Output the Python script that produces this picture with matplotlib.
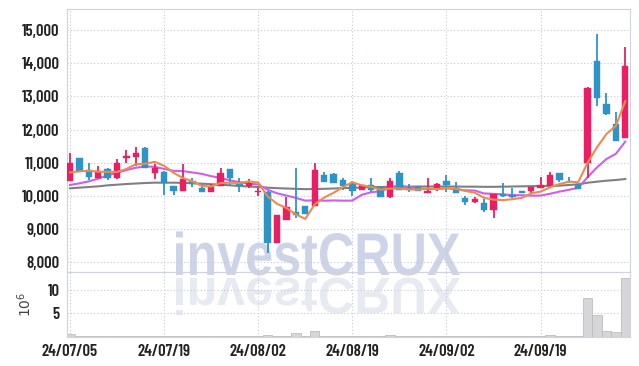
import matplotlib
matplotlib.use("Agg")
import matplotlib.pyplot as plt
from matplotlib.font_manager import FontProperties
from matplotlib.textpath import TextPath
from matplotlib.patches import PathPatch
from matplotlib.transforms import Affine2D

NARROW = ["Barlow Condensed", "Archivo Narrow", "Liberation Sans Narrow", "DejaVu Sans"]
plt.rcParams["font.family"] = NARROW

# --- data (KRW, trading days 24/07/05 .. 24/10/04) ---
tick_pos = [0, 10, 20, 30, 40, 50]
tick_labels = ["24/07/05", "24/07/19", "24/08/02", "24/08/19", "24/09/02", "24/09/19"]

opens = [10460, 11140, 10780, 10530, 10800, 10530, 11130, 11180, 11450, 10680,
         10730, 10300, 10160, 10450, 10230, 10130, 10300, 10800, 10430, 10310,
         10110, 10130, 8580, 9280, 9510, 9700, 9710, 10630, 10660, 10480,
         10400, 10180, 10330, 10260, 9980, 10680, 10230, 10260, 10100, 10200,
         10450, 10230, 9930, 9830, 9800, 9580, 10060, 10030, 10150, 10160,
         10250, 10300, 10680, 10450, 10350, 10980, 14070, 12760, 12170, 11760]
highs = [11290, 11150, 11000, 10910, 10840, 11110, 11390, 11470, 11460, 10960,
         10740, 10310, 10960, 10550, 10350, 10360, 10830, 10810, 10530, 10500,
         10250, 10140, 9430, 9980, 10830, 9710, 10980, 10710, 10680, 10530,
         10450, 10340, 10530, 10310, 10530, 10750, 10350, 10300, 10530, 10400,
         10630, 10430, 10000, 9980, 9900, 10070, 10380, 10230, 10160, 10270,
         10560, 10710, 10690, 10580, 10360, 13270, 14870, 13110, 12520, 14480]
lows = [10460, 10720, 10480, 10530, 10480, 10520, 10980, 10900, 10830, 10500,
        10030, 10030, 10160, 10280, 10130, 10130, 10290, 10300, 10130, 10230,
        10000, 8290, 8580, 9280, 9330, 9450, 9700, 10430, 10380, 10180,
        10010, 10170, 10130, 9980, 9930, 10180, 10110, 10140, 10090, 10160,
        10130, 10080, 9730, 9780, 9530, 9330, 9980, 9950, 10080, 10080,
        10240, 10300, 10430, 10380, 10200, 10530, 12710, 12450, 11660, 11750]
closes = [11000, 10750, 10580, 10750, 10550, 10980, 11210, 11290, 10830, 10830,
          10380, 10160, 10500, 10350, 10130, 10280, 10680, 10550, 10300, 10380,
          10130, 8580, 9430, 9660, 9430, 9450, 10780, 10430, 10380, 10310,
          10160, 10330, 10180, 9980, 10460, 10180, 10180, 10160, 10150, 10360,
          10330, 10080, 9830, 9900, 9580, 10060, 10010, 9960, 10100, 10260,
          10330, 10630, 10480, 10440, 10200, 13260, 12960, 12470, 11670, 13920]

ma5 = [10710, 10740, 10760, 10730, 10726, 10722, 10814, 10956, 10972, 11028,
       10908, 10698, 10540, 10444, 10304, 10284, 10388, 10398, 10388, 10438,
       10408, 9988, 9764, 9636, 9446, 9310, 9750, 9950, 10094, 10270,
       10412, 10322, 10272, 10192, 10222, 10226, 10196, 10192, 10226, 10206,
       10236, 10216, 10150, 10100, 9944, 9890, 9876, 9902, 9942, 10078,
       10132, 10256, 10360, 10428, 10416, 11002, 11468, 11866, 12112, 12856]
ma10 = [10330, 10380, 10440, 10520, 10620, 10700, 10780, 10850, 10890, 10877,
        10815, 10756, 10748, 10708, 10666, 10596, 10543, 10469, 10416, 10371,
        10346, 10188, 10081, 10012, 9942, 9859, 9869, 9857, 9865, 9858,
        9861, 10036, 10111, 10143, 10246, 10319, 10259, 10232, 10209, 10214,
        10231, 10206, 10171, 10163, 10075, 10063, 10046, 10026, 10021, 10011,
        10011, 10066, 10131, 10185, 10247, 10567, 10862, 11113, 11270, 11636]
ma60 = [10230, 10250, 10270, 10290, 10320, 10340, 10360, 10375, 10390, 10400,
        10400, 10400, 10395, 10385, 10370, 10355, 10340, 10320, 10300, 10285,
        10270, 10250, 10235, 10225, 10215, 10205, 10210, 10215, 10225, 10235,
        10245, 10255, 10265, 10270, 10275, 10280, 10280, 10285, 10285, 10285,
        10285, 10285, 10280, 10280, 10275, 10275, 10280, 10285, 10290, 10295,
        10300, 10305, 10310, 10330, 10350, 10400, 10430, 10460, 10480, 10510]

# volume in millions of shares
volume = [0.6, 0.15, 0.1, 0.1, 0.1, 0.15, 0.2, 0.2, 0.2, 0.15,
          0.15, 0.1, 0.25, 0.1, 0.1, 0.15, 0.2, 0.15, 0.1, 0.1,
          0.1, 0.35, 0.2, 0.1, 0.8, 0.2, 1.3, 0.2, 0.15, 0.1,
          0.15, 0.1, 0.25, 0.1, 0.3, 0.15, 0.1, 0.1, 0.1, 0.1,
          0.1, 0.1, 0.1, 0.1, 0.1, 0.1, 0.1, 0.1, 0.1, 0.1,
          0.25, 0.3, 0.1, 0.1, 0.1, 8.2, 4.6, 1.25, 1.05, 12.4]

UP = "#e91e63"
DOWN = "#2e94c8"
GRID = "#c3c8da"
SPINE = "#cfd3de"
TICK_FONT = FontProperties(family=NARROW, weight=600, size=12)

W, H = 639, 366
fig = plt.figure(figsize=(W / 100, H / 100), dpi=100)
left, right = 66.7, 630
ax = fig.add_axes([left / W, 1 - 271.7 / H, (right - left) / W, (271.7 - 9.3) / H])
axv = fig.add_axes([left / W, 1 - 336.7 / H, (right - left) / W, (336.7 - 271.7) / H])

# watermark with reflection
fp = FontProperties(family=["Liberation Sans", "DejaVu Sans"], weight="bold")
tp = TextPath((0, 0), "investCRUX", size=100, prop=fp)
ext = tp.get_extents()
cap = TextPath((0, 0), "C", size=100, prop=fp).get_extents()
sx = 284 / ext.width
sy = 42 / cap.y1
tr = Affine2D().translate(-ext.x0, 0).scale(sx, sy).translate(176, H - 275)
fig.add_artist(PathPatch(tp, transform=tr, fc="#ced4e8", ec="none", zorder=-1))
tr2 = Affine2D().translate(-ext.x0, 0).scale(sx, -sy * 0.85).translate(176, H - 278)
fig.add_artist(PathPatch(tp, transform=tr2, fc="#e8eaf2", ec="none", zorder=-1))

x = list(range(len(closes)))
for i in x:
    o, h, l, c = opens[i], highs[i], lows[i], closes[i]
    col = UP if c >= o else DOWN
    ax.vlines(i, l, h, color=col, lw=1.3, zorder=3)
    ax.bar(i, max(abs(c - o), 25), bottom=min(o, c), width=0.68, color=col,
           edgecolor=col, linewidth=0.3, zorder=4)

ax.plot(x, ma60, color="#808080", lw=1.5, zorder=2)
ax.plot(x, ma10, color="#cf5ded", lw=1.5, zorder=2)
ax.plot(x, ma5, color="#ef8a4f", lw=1.5, zorder=5)

axv.bar(x, volume, width=1.0, color="#d6d6d8", edgecolor="#bdbdc0", linewidth=0.6)

for a in (ax, axv):
    a.set_facecolor("none")
    a.set_xlim(-0.35, 59.5)
    a.set_xticks(tick_pos)
    a.grid(True, color=GRID, linestyle=(0, (1, 2)), linewidth=0.8)
    a.set_axisbelow(True)
    for s in a.spines.values():
        s.set_color(SPINE)
    a.tick_params(length=0, colors="#222222", pad=5)

ax.set_ylim(7720, 15620)
ax.set_yticks(range(8000, 15001, 1000))
ax.set_yticklabels([f"{v:,}" for v in range(8000, 15001, 1000)], fontproperties=TICK_FONT)
ax.tick_params(labelbottom=False)

axv.set_ylim(0, 13.8)
axv.set_yticks([5, 10])
axv.set_yticklabels(["5", "10"], fontproperties=TICK_FONT)
axv.set_xticklabels(tick_labels, fontproperties=TICK_FONT)
axv.tick_params(axis="x", pad=5)
axv.set_ylabel(r"$10^6$", fontsize=10, color="#444444")
axv.yaxis.set_label_coords(-0.058, 0.5)

fig.savefig("out.png", dpi=100, facecolor="white")
